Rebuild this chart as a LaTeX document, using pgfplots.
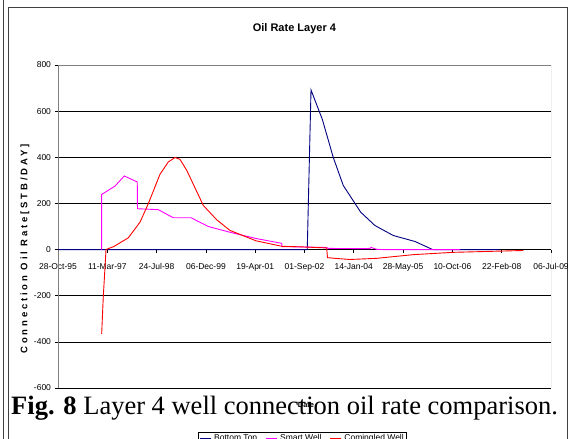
\documentclass[border=0pt]{standalone}
\usepackage{fontspec}
\setmainfont{Liberation Sans}
\newfontfamily\capfont{Liberation Serif}
\newfontfamily\spacedfont[LetterSpace=30]{Liberation Sans}
\usepackage{pgfplots}
\pgfplotsset{compat=1.18}
\definecolor{navyb}{RGB}{0,0,128}
\definecolor{magw}{RGB}{255,0,255}
\definecolor{redc}{RGB}{255,0,0}
\begin{document}
\begin{tikzpicture}[x=1pt,y=1pt]
\path[use as bounding box] (0,0) rectangle (571,439);
\clip (0,0) rectangle (571,439);
\fill[white] (0,0) rectangle (571,439);
\draw[black!75, line width=0.8pt] (3,-5) -- (3,444);
\draw[black!75, line width=0.8pt] (8,-5) -- (8,432) -- (567,432) -- (567,-5);
\begin{axis}[
  at={(58pt,51pt)}, anchor=south west,
  scale only axis, width=493pt, height=323pt,
  xmin=0, xmax=5000, ymin=-600, ymax=800,
  axis x line=middle, axis y line=left,
  axis line style={-, black, line width=0.8pt},
  hide obscured x ticks=false,
  xtick={0,500,...,5000},
  xticklabels={28-Oct-95,11-Mar-97,24-Jul-98,06-Dec-99,19-Apr-01,01-Sep-02,14-Jan-04,28-May-05,10-Oct-06,22-Feb-08,06-Jul-09},
  ytick={-600,-400,...,800},
  yticklabels={-600,-400,-200,0,200,400,600,800},
  tick align=outside, major tick length=3.5pt,
  tick style={black, line width=0.7pt},
  ymajorgrids, grid style={black, line width=0.7pt},
  ticklabel style={font=\fontsize{8.5}{10}\selectfont},
  xticklabel style={yshift=-7pt},
  legend columns=3,
  legend style={at={(0.284,-0.1347)}, anchor=north west, draw=black, line width=0.6pt,
    font=\fontsize{8.5}{10}\selectfont, inner sep=1pt, /tikz/column sep=1pt,
    /tikz/every even column/.append style={column sep=6pt}},
  legend image code/.code={\draw[#1, line width=0.9pt] (0pt,0pt) -- (11pt,0pt);},
]
\draw[gray, line width=0.8pt] (rel axis cs:0,0) rectangle (rel axis cs:1,1);
\addplot[navyb, line width=0.9pt] coordinates {
(0,0) (2528,0) (2566,692) (2681,564) (2792,399) (2893,278) (3070,162)
(3215,104) (3400,61) (3621,35) (3800,0) (4483,0)};
\addlegendentry{Bottom Top}
\addplot[magw, line width=0.9pt] coordinates {
(443,0) (443,239) (578,275) (672,319) (804,293) (806,177) (1017,173)
(1169,138) (1349,138) (1524,100) (1744,75) (2008,48) (2269,27) (2272,13)
(2725,9) (2740,5) (3164,4) (3175,10) (3195,6) (3235,1) (3300,0) (4077,0)};
\addlegendentry{Smart Well}
\addplot[redc, line width=0.9pt] coordinates {
(443,-365) (459,-207) (487,0) (545,10) (561,12) (713,51) (832,119)
(916,199) (1034,326) (1119,380) (1187,399) (1237,391) (1305,344)
(1389,268) (1474,191) (1610,129) (1744,83) (2008,38) (2272,14) (2454,12)
(2725,7) (2733,-35) (2809,-38) (2961,-43) (3232,-38) (3604,-22) (4009,-12) (4719,-4)};
\addlegendentry{Comingled Well}
\end{axis}
\node[font=\fontsize{11}{13}\selectfont\bfseries] at (294.4,410.7) {Oil Rate Layer 4};
\node[rotate=90] at (25,190) {\spacedfont\fontsize{9.5}{11}\selectfont\bfseries Connection Oil Rate[STB/DAY]};
\node[font=\fontsize{7.5}{9}\selectfont\bfseries] at (306,34) {Date};
\node[anchor=base west, inner sep=0pt, font=\capfont\fontsize{26.5}{30}\selectfont] at (11,24) {\textbf{Fig. 8} Layer 4 well connection oil rate comparison.};
\end{tikzpicture}
\end{document}
